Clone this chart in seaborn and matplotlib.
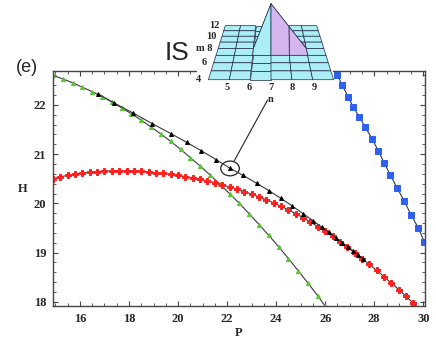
import matplotlib
matplotlib.use("Agg")
import matplotlib.pyplot as plt
from matplotlib.patches import Ellipse, Rectangle
from matplotlib.ticker import MultipleLocator
from mpl_toolkits.mplot3d import proj3d
import numpy as np
import seaborn as sns

# --- data ------------------------------------------------------------------
green_p = [14.9, 15.3, 15.7, 16.1, 16.5, 16.9, 17.3, 17.7, 18.1, 18.5, 18.9,
           19.3, 19.7, 20.1, 20.5, 20.9, 21.3, 21.7, 22.1, 22.5, 22.9, 23.3,
           23.7, 24.1, 24.5, 24.9, 25.3, 25.7, 26.0]
green_h = [22.60, 22.53, 22.45, 22.36, 22.27, 22.17, 22.06, 21.94, 21.82,
           21.69, 21.55, 21.41, 21.26, 21.10, 20.93, 20.76, 20.58, 20.39,
           20.20, 20.00, 19.79, 19.57, 19.35, 19.12, 18.88, 18.63, 18.38,
           18.12, 17.91]

black_p = [16.75, 17.4, 18.15, 18.95, 19.7, 20.35, 20.95, 21.55, 22.1, 22.65,
           23.2, 23.7, 24.2, 24.65, 25.1, 25.5, 25.85, 26.15, 26.45, 26.7,
           26.95, 27.15, 27.35, 27.55]
black_h = [22.22, 22.04, 21.84, 21.62, 21.42, 21.24, 21.07, 20.89, 20.72,
           20.57, 20.41, 20.26, 20.10, 19.95, 19.79, 19.65, 19.52, 19.41,
           19.30, 19.20, 19.11, 19.03, 18.95, 18.87]

red_p = [14.9, 15.2, 15.5, 15.8, 16.1, 16.4, 16.7, 17.0, 17.3, 17.6, 17.9,
         18.2, 18.5, 18.8, 19.1, 19.4, 19.7, 20.0, 20.3, 20.6, 20.9, 21.2,
         21.5, 21.8, 22.1, 22.4, 22.7, 23.0, 23.3, 23.6, 23.9, 24.2, 24.5,
         24.8, 25.1, 25.4, 25.7, 26.0, 26.3, 26.6, 26.9, 27.2, 27.5, 27.8,
         28.1, 28.4, 28.7, 29.0, 29.3, 29.6, 29.9]
red_h = [20.50, 20.54, 20.57, 20.59, 20.61, 20.63, 20.645, 20.655, 20.66,
         20.665, 20.665, 20.66, 20.65, 20.64, 20.625, 20.61, 20.59, 20.57,
         20.545, 20.52, 20.49, 20.455, 20.42, 20.38, 20.33, 20.29, 20.24,
         20.19, 20.13, 20.07, 20.01, 19.94, 19.87, 19.79, 19.71, 19.62,
         19.53, 19.43, 19.33, 19.22, 19.11, 19.00, 18.88, 18.76, 18.64,
         18.51, 18.38, 18.25, 18.11, 17.97, 17.83]

blue_p = [26.49, 26.69, 26.94, 27.14, 27.39, 27.63, 27.92, 28.16, 28.41,
          28.65, 28.94, 29.22, 29.51, 29.80, 30.04, 30.3]
blue_h = [22.61, 22.41, 22.16, 21.96, 21.76, 21.55, 21.31, 21.07, 20.82,
          20.58, 20.31, 20.05, 19.76, 19.50, 19.22, 18.95]

circled = (22.12, 20.71)

x_ticks = [16, 18, 20, 22, 24, 26, 28, 30]
y_ticks = [18, 19, 20, 21, 22]

# inset surface: a peak on a flat n-m grid (raised points: n, m, height)
inset_n = [4, 5, 6, 7, 8, 9, 10]
inset_m = [4, 5, 6, 7, 8, 9, 10, 11, 12]
raised = [(7, 8, 1.0), (8, 8, 0.5)]
inset_n_labels = [5, 6, 7, 8, 9]
inset_m_labels = [4, 6, 8, 10, 12]

# --- figure -----------------------------------------------------------------
sns.set_style("ticks")
plt.rcParams["font.family"] = ["Liberation Serif", "DejaVu Serif"]

fig = plt.figure(figsize=(4.36, 3.41), dpi=100)
ax = fig.add_axes([53 / 436, 1 - 306 / 341, 372 / 436, 235 / 341])

line_kw = dict(color="#3a3a3a", lw=0.8, ax=ax, legend=False)
sns.lineplot(x=green_p, y=green_h, marker="^", markersize=3.0,
             markerfacecolor="#5cc435", markeredgecolor="#5cc435", **line_kw)
sns.lineplot(x=red_p, y=red_h, marker="P", markersize=3.9,
             markerfacecolor="#ff2020", markeredgecolor="#ff2020", **line_kw)
sns.lineplot(x=black_p, y=black_h, marker="^", markersize=2.8,
             markerfacecolor="black", markeredgecolor="black", **line_kw)
sns.lineplot(x=blue_p, y=blue_h, marker="s", markersize=4.9,
             markerfacecolor="#3060f0", markeredgecolor="#3060f0", **line_kw)

ax.set_xlim(14.9, 30.07)
ax.set_ylim(17.915, 22.69)
ax.set_xticks(x_ticks)
ax.set_yticks(y_ticks)
ax.xaxis.set_minor_locator(MultipleLocator(0.5))
ax.yaxis.set_minor_locator(MultipleLocator(0.2))
ax.tick_params(which="both", direction="in", top=True, right=True,
               color="#444444", labelsize=9, pad=5)
ax.tick_params(which="major", length=3.5, width=0.8)
ax.tick_params(which="minor", length=2, width=0.6)
for lab in ax.get_xticklabels() + ax.get_yticklabels():
    lab.set_fontweight("bold")
for sp in ax.spines.values():
    sp.set_color("#444444")
    sp.set_linewidth(1.0)

ax.set_xlabel("P", fontsize=9, fontweight="bold", va="center")
ax.set_ylabel("H", fontsize=9, fontweight="bold", rotation=0,
              va="center", ha="center")
ax.xaxis.set_label_coords(0.5, -0.115)
ax.yaxis.set_label_coords(-0.083, 0.50)

# circled point and pointer to the inset
ax.add_patch(Ellipse(circled, 0.76, 0.30, fill=False, ec="#222222", lw=0.9))
ax.annotate("", xy=circled, xytext=(23.65, 22.1),
            arrowprops=dict(arrowstyle="-", color="#222222", lw=0.8,
                            shrinkA=0, shrinkB=6))

# white band hiding the frame under the inset
fig.add_artist(Rectangle((197 / 436, 1 - 76 / 341), 136 / 436, 76 / 341,
                         transform=fig.transFigure, fc="white", ec="none",
                         zorder=2))

fig.text(27 / 436, 1 - 68 / 341, "(e)", fontsize=13, ha="center",
         va="center", family=["Liberation Sans", "DejaVu Sans"])
fig.text(176.5 / 436, 1 - 52.5 / 341, "IS", fontsize=19, ha="center",
         va="center", family=["Liberation Sans", "DejaVu Sans"])

# --- 3D inset ---------------------------------------------------------------
k = 180 / 52
ax3 = fig.add_axes([244.3 / 436, 1 - 53.2 / 341, 52 / 436, 52 / 341],
                   projection="3d")
ax3.set_zorder(3)
ax3.patch.set_visible(False)
ax3.set_axis_off()
ax3.view_init(elev=19, azim=-90)
ax3.set_proj_type("persp", focal_length=0.438 * k)
ax3.set_box_aspect((6, 8, 2.64), zoom=k)

N, M = np.meshgrid(inset_n, inset_m)
Z = np.zeros(N.shape)
for n, m, h in raised:
    Z[inset_m.index(m), inset_n.index(n)] = h
cols = np.empty(N.shape + (4,))
cols[:] = matplotlib.colors.to_rgba("#aceef6")
i0, j0 = inset_m.index(7), inset_n.index(7)
cols[i0:i0 + 2, j0:j0 + 2] = matplotlib.colors.to_rgba("#d6b6ee")
cols[i0 + 1, j0 + 1] = matplotlib.colors.to_rgba("#c9a3e6")
surf = ax3.plot_surface(N, M, Z, facecolors=cols, edgecolor="#1b2a44",
                        lw=0.5, rstride=1, cstride=1, shade=False)
surf.set_clip_on(False)
ax3.set_xlim(4, 10)
ax3.set_ylim(4, 12)
ax3.set_zlim(0, 1)

# inset labels: project the 3D anchor points, then draw plain 2D text
proj = ax3.get_proj()
lab_kw = dict(fontsize=7.5, fontweight="bold", va="center",
              transform=ax3.transData)


def put_label(n, m, text, ha):
    x2, y2, _ = proj3d.proj_transform(n, m, 0, proj)
    ax3.text2D(x2, y2, text, ha=ha, **lab_kw)


for n in inset_n_labels:
    put_label(n, 3.15, str(n), "center")
put_label(7, 2.1, "n", "center")
for m in inset_m_labels:
    put_label(3.65, m, "m 8" if m == 8 else str(m), "right")

fig.savefig("out.png", dpi=100)
